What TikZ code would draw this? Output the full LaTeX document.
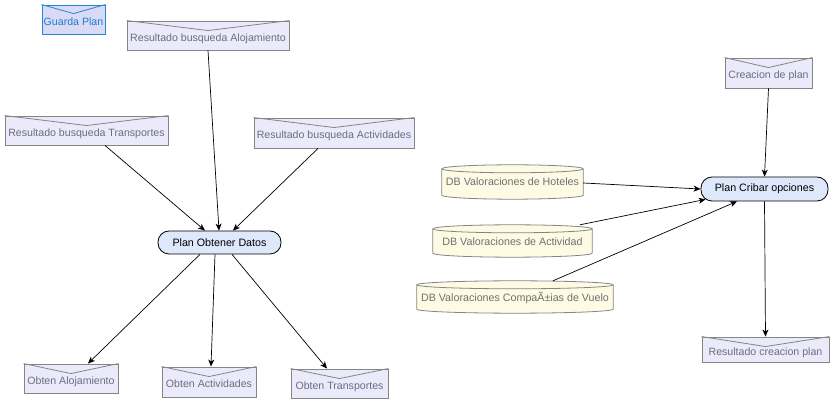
\documentclass[tikz,border=0pt]{standalone}
\usepackage{fontspec}
\setmainfont{Liberation Sans}
\usetikzlibrary{arrows.meta,backgrounds,calc}
\definecolor{envfill}{HTML}{EAEAFA}
\definecolor{envline}{HTML}{858585}
\definecolor{envtext}{HTML}{6C6C84}
\definecolor{gpfill}{HTML}{DADAF6}
\definecolor{gpline}{HTML}{2288D4}
\definecolor{gptext}{HTML}{1C7CD0}
\definecolor{planfill}{HTML}{DDE8FB}
\definecolor{dbfill}{HTML}{FEFBE4}
\definecolor{dbline}{HTML}{858585}
\definecolor{dbtext}{HTML}{707070}
\tikzset{
  envbox/.style={draw=envline, fill=envfill, text=envtext, line width=0.9pt, inner sep=0pt,
     font=\fontsize{10.6}{12}\selectfont},
  gpbox/.style={envbox, draw=gpline, fill=gpfill, text=gptext},
  planbox/.style={draw=black, fill=planfill, rounded corners=11pt, line width=0.8pt, inner sep=0pt,
     font=\fontsize{10.7}{12}\selectfont},
  dbbox/.style={inner sep=0pt, text=dbtext, font=\fontsize{10.7}{12}\selectfont},
  cyl/.style={draw=dbline, fill=dbfill, line width=0.8pt},
  vline/.style={draw=envline, line width=0.8pt},
  conn/.style={draw=black, line width=0.7pt, -{Stealth[length=7pt,width=6pt,inset=2pt]}}
}
\newcommand{\envtxt}[2][-6pt]{\raisebox{#1}[0pt][0pt]{#2}}
\begin{document}
\begin{tikzpicture}[x=1pt,y=1pt]
\useasboundingbox (0,0) rectangle (833,404);
% envelopes
\node[gpbox, minimum width=63pt, minimum height=29pt] (gp) at (73.5,384.5) {\envtxt{Guarda Plan}};
\node[envbox, minimum width=162pt, minimum height=29pt] (ra) at (208,368.5) {\envtxt{Resultado busqueda Alojamiento}};
\node[envbox, minimum width=163pt, minimum height=29pt] (rt) at (86.5,273.5) {\envtxt{Resultado busqueda Transportes}};
\node[envbox, minimum width=160pt, minimum height=30pt] (rac) at (334,271) {\envtxt{Resultado busqueda Actividades}};
\node[envbox, minimum width=94pt, minimum height=29pt] (oa) at (71,25.5) {\envtxt{Obten Alojamiento}};
\node[envbox, minimum width=94pt, minimum height=30pt] (oac) at (209,22) {\envtxt{Obten Actividades}};
\node[envbox, minimum width=97pt, minimum height=29pt] (ot) at (339.5,20.5) {\envtxt{Obten Transportes}};
\node[envbox, minimum width=87pt, minimum height=30pt] (cp) at (768.5,331) {\envtxt{Creacion de plan}};
\node[envbox, minimum width=127pt, minimum height=25pt] (rcp) at (765.5,54.5) {\envtxt[-6pt]{Resultado creacion plan}};
% V lines of envelopes
\foreach \e/\d in {ra/10,rt/10,rac/10,oa/10,oac/10,ot/10,cp/10,rcp/10}{
  \draw[vline] (\e.north west) -- ([yshift=-\d pt]\e.north) -- (\e.north east);
}
\draw[draw=gpline, line width=0.8pt] (gp.north west) -- ([yshift=-9pt]gp.north) -- (gp.north east);
% plan nodes
\node[planbox, minimum width=123pt, minimum height=23pt] (pod) at (219.5,161.5) {Plan Obtener Datos};
\node[planbox, minimum width=127pt, minimum height=24pt] (pco) at (764.5,215) {Plan Cribar opciones};
% databases
\node[dbbox, minimum width=141pt, minimum height=34pt] (dbh) at (512.5,222) {DB Valoraciones de Hoteles};
\node[dbbox, minimum width=159pt, minimum height=32pt] (dba) at (512.5,163) {\envtxt[-5pt]{DB Valoraciones de Actividad}};
\node[dbbox, minimum width=196pt, minimum height=32pt] (dbc) at (515,107) {\envtxt[-5pt]{DB Valoraciones CompaÃ±ias de Vuelo}};
\begin{scope}[on background layer]
\foreach \nd in {dbh,dba,dbc}{
  \draw[cyl] let \p1=(\nd.north west), \p2=(\nd.south east), \n1={(\x2-\x1)/2} in
    (\x1,\y1-4pt) -- (\x1,\y2+4pt) arc[start angle=180,end angle=360,x radius=\n1,y radius=4pt]
    -- (\x2,\y1-4pt) arc[start angle=0,end angle=180,x radius=\n1,y radius=4pt] -- cycle;
  \draw[cyl, fill=none] let \p1=(\nd.north west), \p2=(\nd.south east), \n1={(\x2-\x1)/2} in
    (\x1,\y1-4pt) arc[start angle=180,end angle=360,x radius=\n1,y radius=4pt];
}
\end{scope}
% connectors left
\draw[conn] (ra.south) -- ([xshift=-0.5pt]pod.north);
\draw[conn] ([xshift=18.5pt]rt.south) -- ([xshift=-14.5pt]pod.north);
\draw[conn] ([xshift=-16pt]rac.south) -- ([xshift=13.5pt]pod.north);
\draw[conn] ([xshift=-19.5pt]pod.south) -- ([xshift=17pt]oa.north);
\draw[conn] ([xshift=-4.5pt]pod.south) -- ([xshift=2pt]oac.north);
\draw[conn] ([xshift=12.5pt]pod.south) -- ([xshift=-12.5pt]ot.north);
% connectors right
\draw[conn] (cp.south) -- (pco.north);
\draw[conn] ([yshift=-1pt]dbh.east) -- (pco.west);
\draw[conn] ([xshift=67.5pt]dba.north) -- ([xshift=5pt,yshift=2pt]pco.south west);
\draw[conn] ([xshift=38pt]dbc.north) -- ([xshift=-27.5pt]pco.south);
\draw[conn] (pco.south) -- (rcp.north);
\end{tikzpicture}
\end{document}
